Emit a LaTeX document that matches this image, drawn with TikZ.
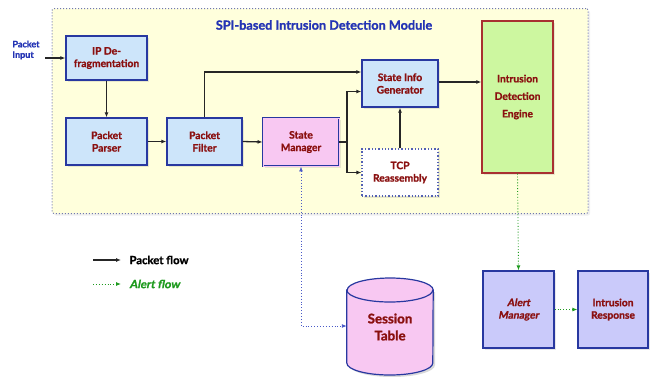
\documentclass[tikz,border=0pt]{standalone}
\usepackage{fontspec}
\setmainfont{Lato}[BoldFeatures={FakeBold=1.2}]
\newfontfamily\slantbold{Lato}[UprightFont=* Bold, UprightFeatures={FakeBold=1.2, FakeSlant=0.18}]
\usetikzlibrary{arrows.meta,shadows}

\definecolor{modfill}{HTML}{FFFFDC}
\definecolor{modline}{HTML}{7078B0}
\definecolor{bluefill}{HTML}{CDE5FA}
\definecolor{boxline}{HTML}{2838A0}
\definecolor{pinkfill}{HTML}{F8C8F2}
\definecolor{greenfill}{HTML}{CDF7A0}
\definecolor{engline}{HTML}{A83030}
\definecolor{lavfill}{HTML}{CACAFA}
\definecolor{labelred}{HTML}{8A1010}
\definecolor{titleblue}{HTML}{2434B4}
\definecolor{alertgreen}{HTML}{1E9A1E}
\definecolor{linkblue}{HTML}{4A5AC8}

\tikzset{
  box/.style={draw=boxline, line width=1.3pt, align=center, text=labelred,
    font=\bfseries\fontsize{10.3}{12.5}\selectfont, inner sep=0pt,
    drop shadow={opacity=0.18, shadow xshift=2pt, shadow yshift=-2pt}},
  procbox/.style={box, fill=bluefill},
  pinkbox/.style={box, fill=pinkfill, double=pinkfill, double distance=0.8pt, line width=0.9pt},
  lavbox/.style={box, fill=lavfill},
  flow/.style={draw=black!85, line width=1.3pt, -{Latex[length=5pt,width=4pt]}},
  bigflow/.style={flow, line width=2pt},
  alert/.style={draw=alertgreen, line width=0.9pt, dotted, -{Latex[length=5pt,width=4pt]}},
  dblink/.style={draw=linkblue, line width=0.9pt, dotted, {Latex[length=5pt,width=4pt]}-{Latex[length=5pt,width=4pt]}},
}

\begin{document}
\begin{tikzpicture}[x=1pt,y=-1pt]
\useasboundingbox (0,0) rectangle (652,376);

% module frame
\node[draw=modline, dotted, line width=1pt, fill=modfill, minimum width=536pt, minimum height=205pt,
      rounded corners=2pt, drop shadow={opacity=0.12, shadow xshift=2pt, shadow yshift=-2pt}] (module) at (320,111) {};
\node[text=titleblue, font=\bfseries\fontsize{12.7}{15}\selectfont] (title) at (324,25) {SPI-based Intrusion Detection Module};

% input
\node[text=titleblue, font=\bfseries\fontsize{9}{10.5}\selectfont, align=left] (inlabel) at (26,50) {Packet\\Input};
\coordinate (pin) at (45,58);

% processing blocks
\node[procbox, minimum width=81pt, minimum height=44pt] (defrag) at (106.5,58) {IP De-\\fragmentation};
\node[procbox, minimum width=81pt, minimum height=47pt] (parser) at (106.5,141.5) {Packet\\Parser};
\node[procbox, minimum width=75pt, minimum height=47pt] (filter) at (204.5,141.5) {Packet\\Filter};
\node[pinkbox, minimum width=76pt, minimum height=48pt] (state) at (301,142) {State\\Manager};
\node[procbox, minimum width=76pt, minimum height=47pt] (sig) at (400,83.5) {State Info\\Generator};
\node[box, fill=white, draw=boxline!80, dotted, line width=1.1pt, minimum width=76pt, minimum height=47pt] (tcp) at (400,172.5) {TCP\\Reassembly};
\node[box, fill=greenfill, draw=engline, minimum width=71pt, minimum height=152pt] (ide) at (517.5,97) {};
\node[text=labelred, font=\bfseries\fontsize{10.3}{17.5}\selectfont, align=center] (idetext) at (517.5,97) {Intrusion\\Detection\\Engine};

% outside blocks
\node[lavbox, minimum width=71pt, minimum height=77pt, font=\slantbold\fontsize{10.3}{12.5}\selectfont] (alertmgr) at (518.5,309.5) {Alert\\Manager};
\node[lavbox, minimum width=70pt, minimum height=77pt] (response) at (613,309.5) {Intrusion\\Response};

% session table (cylinder)
\node[minimum width=86pt, minimum height=97pt, inner sep=0pt] (table) at (390,326) {};
\fill[black, opacity=0.15] (349,292) -- (349,365) arc[start angle=180, end angle=360, x radius=43pt, y radius=12pt] -- (435,292) -- cycle;
\draw[draw=boxline, line width=1.2pt, fill=pinkfill]
  (table.north west |- 0,290) -- (table.south west |- 0,363)
  arc[start angle=180, end angle=360, x radius=43pt, y radius=12pt]
  -- (table.north east |- 0,290)
  arc[start angle=0, end angle=180, x radius=43pt, y radius=12pt] -- cycle;
\draw[draw=boxline, line width=1.2pt]
  (table.north west |- 0,290) arc[start angle=180, end angle=360, x radius=43pt, y radius=12pt];
\node[text=labelred, font=\bfseries\fontsize{13.3}{17}\selectfont, align=center] (tabletext) at (390,327) {Session\\Table};

% packet flow
\draw[flow] (pin) -- (defrag.west);
\draw[flow] (defrag.south) -- (parser.north);
\draw[flow] (parser.east) -- (filter.west);
\draw[flow] (filter.east) -- (state.west);
\draw[flow] (filter.north) |- ([yshift=11.5pt]sig.west);
\coordinate (split) at (347,142);
\draw[draw=black!85, line width=1.3pt] (state.east) -- (split);
\draw[flow] (split) |- ([yshift=-8pt]sig.west);
\draw[flow] (split) |- (tcp.west);
\draw[flow] (tcp.north) -- (sig.south);
\draw[bigflow] ([yshift=1.5pt]sig.east) -- ([yshift=1.5pt]sig.east -| ide.west);

% alert flow
\draw[alert] (ide.south) -- (alertmgr.north);
\draw[alert] (alertmgr.east) -- (response.west);

% session table access
\draw[dblink] (state.south) |- (table.west);

% legend
\coordinate (pkA) at (93,260);
\coordinate (pkB) at (121,260);
\coordinate (alA) at (93,284);
\coordinate (alB) at (121,284);
\draw[flow, line width=1.1pt] (pkA) -- (pkB);
\draw[alert] (alA) -- (alB);
\node[anchor=west, font=\bfseries\fontsize{11.3}{13}\selectfont] (pklabel) at (126,260) {Packet flow};
\node[anchor=west, text=alertgreen, font=\slantbold\fontsize{11.3}{13}\selectfont] (allabel) at (126,284) {Alert flow};
\end{tikzpicture}
\end{document}
